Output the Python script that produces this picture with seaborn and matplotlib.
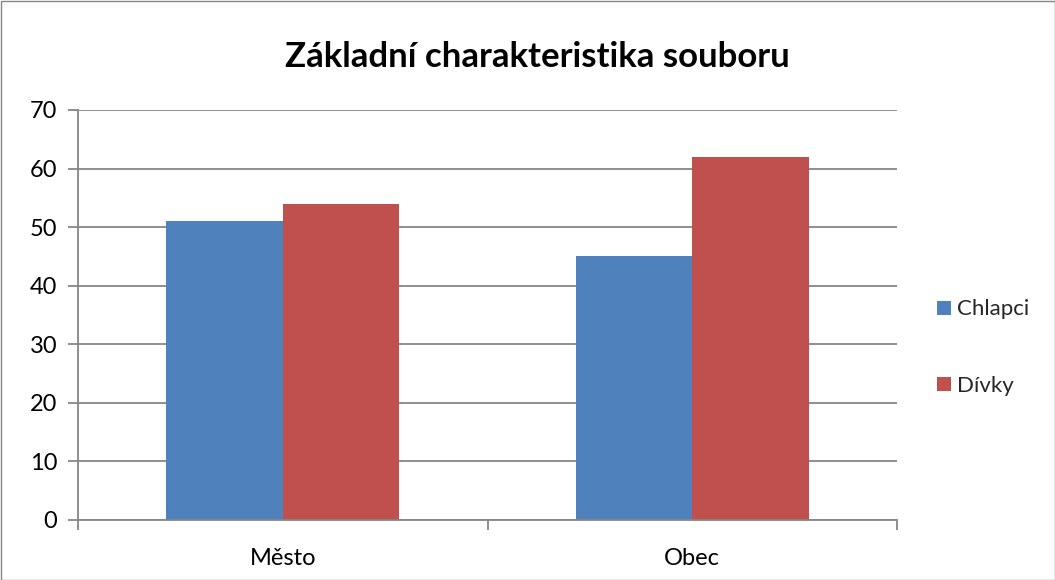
import matplotlib
matplotlib.use("Agg")
import matplotlib.pyplot as plt
import seaborn as sns
import pandas as pd
from matplotlib.patches import Rectangle

categories = ["Město", "Obec"]
series_names = ["Chlapci", "Dívky"]
chlapci = [51, 45]
divky = [54, 62]
y_ticks = [0, 10, 20, 30, 40, 50, 60, 70]
title = "Základní charakteristika souboru"
colors = ["#4F81BD", "#C0504D"]

df = pd.DataFrame({
    "kategorie": categories * 2,
    "skupina": [series_names[0]] * len(categories) + [series_names[1]] * len(categories),
    "hodnota": chlapci + divky,
})

sns.set_theme(style="white")
plt.rcParams['font.family'] = ['Lato', 'DejaVu Sans']

fig = plt.figure(figsize=(10.55, 5.8), dpi=100)
fig.patches.append(Rectangle((0.5 / 1055, 0.5 / 580), 1 - 1 / 1055, 1 - 1 / 580,
                             transform=fig.transFigure, fill=False,
                             edgecolor="#868686", linewidth=1))
ax = fig.add_axes([78 / 1055, 60 / 580, (897 - 78) / 1055, 410 / 580])

sns.barplot(data=df, x="kategorie", y="hodnota", hue="skupina",
            palette=colors, width=0.57, dodge=True, ax=ax,
            saturation=1, edgecolor="none", linewidth=0, gap=0)

ax.set_xlim(-0.5, len(categories) - 0.5)
ax.set_ylim(0, 70)
ax.set_yticks(y_ticks)
ax.set_xlabel("")
ax.set_ylabel("")

for spine in ["top", "right"]:
    ax.spines[spine].set_visible(False)
for spine in ["left", "bottom"]:
    ax.spines[spine].set_color("#868686")
    ax.spines[spine].set_linewidth(1.3)

ax.yaxis.grid(True, color="#868686", linewidth=1.3)
ax.set_axisbelow(True)

ax.set_xticks(range(len(categories)))
ax.set_xticklabels(categories)
ax.set_xticks([i - 0.5 for i in range(len(categories) + 1)], minor=True)
ax.tick_params(axis="x", which="major", length=0, pad=20, labelsize=17, labelcolor="black")
ax.tick_params(axis="x", which="minor", length=7, width=1.3, color="#868686", direction="out", bottom=True)
ax.tick_params(axis="y", length=7, width=1.3, color="#868686", direction="out", left=True,
               labelsize=17, labelcolor="black", pad=8)

fig.text(537 / 1055, 1 - 57 / 580, title, ha="center", va="center",
         fontsize=25, fontweight="bold", color="black")

handles, labels = ax.get_legend_handles_labels()
ax.legend(handles, labels, loc="center left", bbox_to_anchor=(1.025, 0.42),
          frameon=False, fontsize=16, handlelength=0.6, handleheight=0.6,
          handletextpad=0.3, labelspacing=2.55)

fig.savefig("out.png", dpi=100)
